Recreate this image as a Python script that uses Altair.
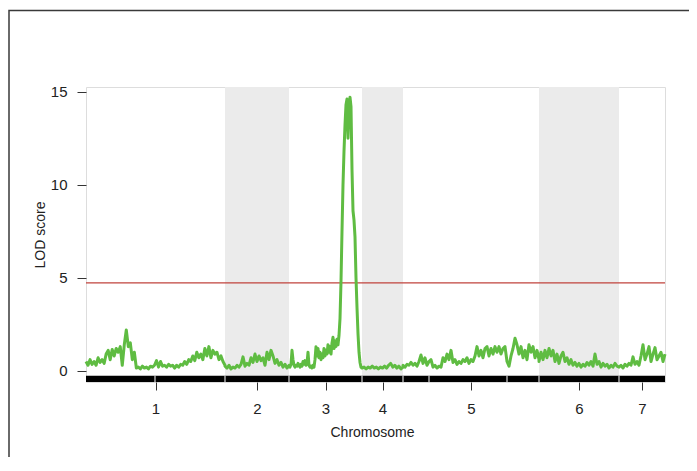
import altair as alt
import numpy as np
import pandas as pd

# ---------------- data ----------------
chrom_names = ["1", "2", "3", "4", "5", "6", "7"]
chrom_lengths = [139, 64, 73, 41, 136, 80, 46]   # cM (map units)
shaded_chroms = ["2", "4", "6"]
threshold = 4.73
rug_marker_gaps = [69, 343, 421]                  # positions with no markers

lod_chr1 = [0.5, 0.3, 0.6, 0.35, 0.5, 0.3, 0.7, 0.45, 0.6, 0.4,
            0.9, 1.1, 0.6, 1.15, 0.8, 1.2, 1.0, 1.3, 0.3, 1.4,
            2.2, 1.3, 1.5, 0.6, 1.0, 0.15, 0.2, 0.1, 0.25, 0.15,
            0.2, 0.1, 0.25, 0.2, 0.3, 0.55, 0.2, 0.5, 0.25, 0.3,
            0.2, 0.35, 0.25, 0.3, 0.15, 0.3, 0.2, 0.35, 0.3, 0.5,
            0.35, 0.6, 0.5, 0.8, 0.55, 1.0, 0.7, 0.9, 0.6, 1.2,
            0.8, 1.3, 0.7, 1.1, 0.9, 1.0, 0.6, 0.8, 0.5, 0.3]
lod_chr2 = [0.25, 0.15, 0.3, 0.1, 0.2, 0.15, 0.3, 0.2, 0.35, 0.75,
            0.25, 0.4, 0.3, 0.7, 0.45, 0.9, 0.5, 0.8, 0.55, 0.7,
            0.3, 1.0, 0.6, 1.1, 0.8, 0.4, 0.6, 0.3, 0.45, 0.2,
            0.35, 0.15, 0.3]
lod_chr3 = [0.3, 0.2, 0.35, 1.1, 0.6, 0.3, 0.2, 0.3, 0.25, 0.4,
            0.3, 0.2, 0.35, 0.25, 0.5, 0.35, 0.55, 0.3, 0.4, 1.0,
            0.3, 0.2, 0.25, 0.15, 0.3, 0.2, 0.6, 1.3, 0.8, 1.2,
            0.7, 1.0, 0.6, 0.9, 0.7, 1.2, 0.8, 1.1, 0.9, 1.4,
            1.0, 1.3, 0.9, 1.5, 1.8, 1.2, 1.6, 1.3, 1.7, 1.4,
            1.9, 2.8, 4.8, 7.5, 10.0, 11.8, 13.2, 14.3, 14.6, 12.5,
            14.0, 14.7, 14.2, 10.8, 8.6, 8.1, 7.2, 5.0, 3.4, 2.0,
            1.0, 0.45, 0.2, 0.15]
lod_chr4 = [0.15, 0.2, 0.1, 0.2, 0.15, 0.25, 0.15, 0.2, 0.1, 0.2,
            0.15, 0.25, 0.15, 0.3, 0.4, 0.2, 0.3, 0.15, 0.25, 0.1,
            0.2]
lod_chr5 = [0.3, 0.2, 0.35, 0.3, 0.45, 0.3, 0.4, 0.25, 0.5, 0.85,
            0.4, 0.7, 0.3, 0.5, 0.6, 0.2, 0.3, 0.15, 0.25, 0.2,
            0.7, 0.5, 0.9, 0.6, 1.1, 0.45, 0.6, 0.35, 0.5, 0.4,
            0.6, 0.5, 0.7, 0.4, 0.6, 0.5, 0.8, 1.3, 0.8, 1.1,
            0.7, 1.2, 1.3, 0.8, 1.2, 0.9, 1.3, 1.0, 1.3, 0.9,
            1.2, 1.3, 0.5, 0.25, 0.8, 1.2, 1.75, 1.4, 0.9, 1.3,
            0.7, 1.1, 0.6, 1.4, 1.0, 1.3, 0.7, 1.1, 0.6]
lod_chr6 = [0.5, 1.0, 0.6, 1.1, 0.7, 1.2, 0.8, 1.1, 0.5, 0.9,
            0.4, 0.8, 1.0, 0.5, 0.7, 0.35, 0.6, 0.3, 0.45, 0.25,
            0.4, 0.2, 0.35, 0.25, 0.45, 0.3, 0.5, 0.25, 0.9, 0.35,
            0.5, 0.2, 0.4, 0.25, 0.35, 0.15, 0.3, 0.2, 0.4, 0.25,
            0.2]
lod_chr7 = [0.2, 0.3, 0.15, 0.35, 0.25, 0.4, 0.3, 0.75, 0.35, 0.5,
            0.3, 0.8, 1.4, 0.6, 0.9, 1.3, 0.5, 0.9, 1.25, 0.6,
            0.8, 1.0, 0.5, 0.9]
lod_by_chrom = [lod_chr1, lod_chr2, lod_chr3, lod_chr4, lod_chr5, lod_chr6, lod_chr7]

# ---------------- tables ----------------
starts = np.concatenate([[0], np.cumsum(chrom_lengths)[:-1]])
ends = np.cumsum(chrom_lengths)
mids = (starts + ends) / 2.0
total = float(ends[-1])

rows = []
for name, s, e, vals in zip(chrom_names, starts, ends, lod_by_chrom):
    for p, v in zip(np.linspace(s, e, len(vals)), vals):
        rows.append({"chrom": name, "pos": float(p), "lod": v})
scan = pd.DataFrame(rows)

chroms = pd.DataFrame({"chrom": chrom_names, "start": starts.astype(float),
                       "end": ends.astype(float), "mid": mids})
bands = chroms[chroms["chrom"].isin(shaded_chroms)]
gaps = pd.DataFrame({"pos": list(starts[1:].astype(float)) + [float(g) for g in rug_marker_gaps]})

ymin, ymax = -0.6, 15.25
label_expr = " : ".join(
    [f"datum.value < {e} ? '{n}'" for n, e in zip(chrom_names[:-1], ends[:-1])]
) + f" : '{chrom_names[-1]}'"

xscale = alt.Scale(domain=[0, total], nice=False, zero=False)
yscale = alt.Scale(domain=[ymin, ymax], nice=False, zero=False)

FONT = "Liberation Sans"
TXT = "#222222"

x_axis = alt.Axis(values=[float(m) for m in mids], labelExpr=label_expr,
                  title="Chromosome", grid=False, domain=False, tickSize=8,
                  tickColor="#333333", labelFontSize=15, labelColor=TXT,
                  labelFont=FONT, labelPadding=11, titleFont=FONT,
                  titleFontSize=14, titleFontWeight="normal", titleColor=TXT,
                  titlePadding=9, titleX=286, labelFlush=False)
y_axis = alt.Axis(values=[0, 5, 10, 15], title="LOD score", grid=False,
                  domain=False, tickSize=9, tickColor="#333333",
                  labelFontSize=15, labelColor=TXT, labelFont=FONT,
                  labelPadding=10, titleFont=FONT, titleFontSize=14,
                  titleFontWeight="normal", titleColor=TXT, titlePadding=3)

band_layer = alt.Chart(bands).mark_rect(color="#ebebeb").encode(
    x=alt.X("start:Q", scale=xscale, axis=x_axis),
    x2="end:Q",
)

rug_layer = alt.Chart(chroms).mark_rect(color="#000000").encode(
    x=alt.X("start:Q", scale=xscale),
    x2="end:Q",
    y=alt.Y("b:Q", scale=yscale, axis=y_axis),
    y2="t:Q",
).transform_calculate(b=str(ymin), t="-0.27")

gap_layer = alt.Chart(gaps).mark_rect(color="#ffffff").encode(
    x=alt.X("l:Q", scale=xscale),
    x2="r:Q",
    y=alt.Y("b:Q", scale=yscale),
    y2="t:Q",
).transform_calculate(l="datum.pos - 0.5", r="datum.pos + 0.5",
                      b=str(ymin), t="-0.27")

thr_layer = alt.Chart(pd.DataFrame({"thr": [threshold]})).mark_rule(
    color="#c0433d", strokeWidth=1.3
).encode(y=alt.Y("thr:Q", scale=yscale))

line_layer = alt.Chart(scan).mark_line(
    color="#5fbc42", strokeWidth=3.0, strokeJoin="round"
).encode(
    x=alt.X("pos:Q", scale=xscale),
    y=alt.Y("lod:Q", scale=yscale),
)

frame_layer = alt.Chart(alt.Data(values=[{"f": 1}])).mark_rect(
    filled=False, stroke="#3a3a3a", strokeWidth=1.5
).encode(
    x=alt.value(-77), x2=alt.value(640),
    y=alt.value(-76.5), y2=alt.value(500),
)

chart = alt.layer(
    band_layer, rug_layer, gap_layer, thr_layer, line_layer, frame_layer
).properties(
    width=579, height=295,
    autosize=alt.AutoSizeParams(type="none"),
    padding={"left": 78, "top": 79, "right": 24, "bottom": 75},
).configure_view(
    stroke="#333333", strokeWidth=1
).configure(background="#ffffff")

chart.save("out.html", embed_options={"renderer": "svg", "actions": False})
